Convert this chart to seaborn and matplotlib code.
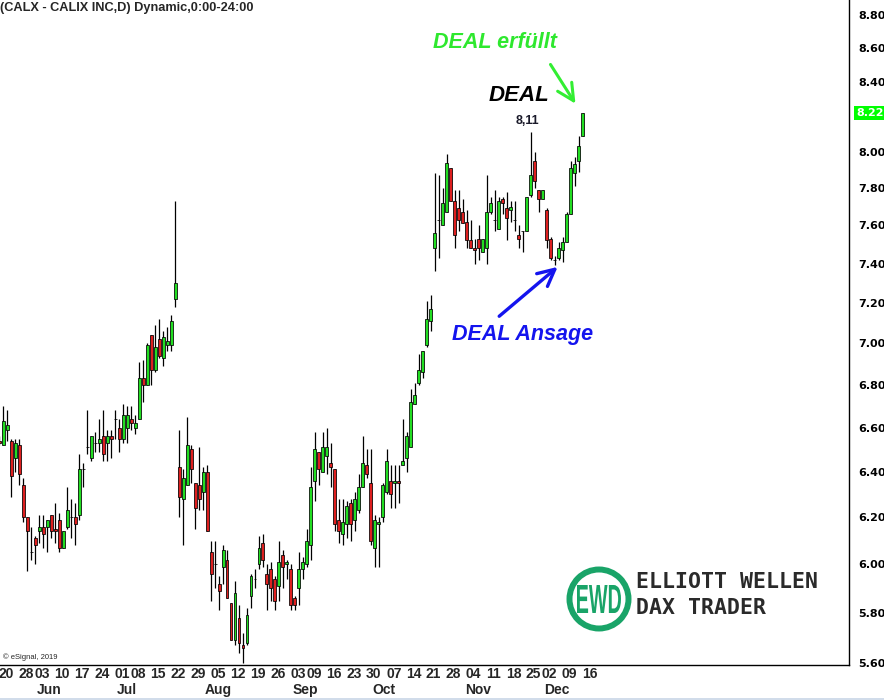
import matplotlib
matplotlib.use('Agg')
import matplotlib.pyplot as plt
import matplotlib.transforms as mtransforms
from matplotlib.patches import Circle, PathPatch
from matplotlib.textpath import TextPath
from matplotlib.font_manager import FontProperties
from matplotlib.ticker import NullLocator
import numpy as np
import seaborn as sns

# daily OHLC, CALX, 20 May - 16 Dec 2019
opens = [6.54, 6.52, 6.59, 6.54, 6.46, 6.52, 6.34, 6.20, 6.05, 6.11,
         6.14, 6.16, 6.16, 6.21, 6.15, 6.19, 6.07, 6.16, 6.20, 6.20,
         6.21, 6.41, 6.51, 6.46, 6.53, 6.53, 6.56, 6.53, 6.56, 6.64,
         6.60, 6.55, 6.60, 6.64, 6.60, 6.64, 6.83, 6.80, 7.04, 6.87,
         7.02, 6.93, 6.99, 6.99, 7.22, 6.42, 6.28, 6.34, 6.50, 6.35,
         6.34, 6.31, 6.40, 6.05, 6.00, 5.92, 5.99, 6.02, 5.84, 5.69,
         5.78, 5.67, 5.68, 5.87, 5.94, 6.00, 6.09, 5.96, 5.98, 5.94,
         5.91, 6.04, 6.00, 5.98, 5.86, 5.90, 5.98, 6.00, 6.08, 6.36,
         6.49, 6.40, 6.47, 6.44, 6.41, 6.19, 6.13, 6.17, 6.26, 6.19,
         6.23, 6.33, 6.43, 6.35, 6.07, 6.17, 6.20, 6.31, 6.36, 6.35,
         6.36, 6.43, 6.46, 6.51, 6.71, 6.81, 6.86, 6.99, 7.11, 7.48,
         7.63, 7.60, 7.67, 7.91, 7.73, 7.69, 7.67, 7.62, 7.52, 7.48,
         7.53, 7.46, 7.48, 7.67, 7.63, 7.58, 7.74, 7.69, 7.68, 7.63,
         7.55, 7.57, 7.57, 7.76, 7.95, 7.79, 7.74, 7.68, 7.53, 7.42,
         7.43, 7.47, 7.51, 7.66, 7.88, 7.95, 8.09]
highs = [6.56, 6.70, 6.68, 6.55, 6.55, 6.55, 6.37, 6.20, 6.16, 6.12,
         6.21, 6.21, 6.19, 6.21, 6.26, 6.22, 6.14, 6.33, 6.28, 6.26,
         6.48, 6.44, 6.68, 6.56, 6.58, 6.64, 6.68, 6.59, 6.59, 6.68,
         6.64, 6.71, 6.70, 6.70, 6.66, 6.91, 6.92, 7.00, 7.04, 7.09,
         7.12, 7.06, 7.08, 7.14, 7.73, 6.59, 6.41, 6.65, 6.52, 6.35,
         6.51, 6.42, 6.43, 6.10, 6.10, 5.95, 6.08, 6.06, 5.84, 5.93,
         5.83, 5.72, 5.82, 5.96, 5.98, 6.12, 6.13, 6.00, 6.01, 5.95,
         6.10, 6.06, 6.02, 6.00, 5.87, 6.05, 6.03, 6.15, 6.42, 6.58,
         6.49, 6.58, 6.60, 6.53, 6.41, 6.28, 6.28, 6.27, 6.28, 6.31,
         6.39, 6.56, 6.50, 6.50, 6.21, 6.20, 6.35, 6.50, 6.43, 6.43,
         6.43, 6.64, 6.58, 6.78, 6.81, 6.95, 6.96, 7.21, 7.24, 7.88,
         7.87, 7.80, 7.99, 7.91, 7.79, 7.79, 7.74, 7.68, 7.63, 7.53,
         7.60, 7.53, 7.87, 7.75, 7.79, 7.75, 7.75, 7.78, 7.73, 7.73,
         7.60, 7.57, 7.75, 8.11, 8.00, 7.79, 7.79, 7.69, 7.54, 7.44,
         7.51, 7.54, 7.67, 7.95, 7.97, 8.09, 8.22]
lows = [6.52, 6.52, 6.54, 6.29, 6.40, 6.34, 6.18, 5.97, 6.02, 6.00,
        6.09, 6.07, 6.05, 6.11, 6.09, 6.05, 6.07, 6.15, 6.11, 6.08,
        6.19, 6.33, 6.48, 6.45, 6.49, 6.49, 6.45, 6.45, 6.46, 6.55,
        6.49, 6.53, 6.53, 6.59, 6.57, 6.64, 6.72, 6.80, 6.80, 6.86,
        6.93, 6.89, 6.96, 6.96, 7.18, 6.20, 6.08, 6.34, 6.35, 6.15,
        6.23, 6.23, 6.14, 5.85, 5.90, 5.81, 5.92, 5.86, 5.69, 5.67,
        5.64, 5.60, 5.67, 5.82, 5.90, 5.98, 5.99, 5.81, 5.85, 5.81,
        5.85, 5.90, 5.94, 5.81, 5.81, 5.83, 5.94, 5.99, 6.02, 6.27,
        6.34, 6.40, 6.39, 6.33, 6.14, 6.09, 6.08, 6.11, 6.10, 6.14,
        6.22, 6.33, 6.37, 6.08, 5.99, 5.99, 6.18, 6.30, 6.24, 6.24,
        6.26, 6.43, 6.40, 6.51, 6.71, 6.80, 6.83, 6.98, 7.06, 7.36,
        7.43, 7.60, 7.67, 7.73, 7.48, 7.57, 7.61, 7.48, 7.48, 7.40,
        7.42, 7.46, 7.40, 7.66, 7.57, 7.58, 7.66, 7.52, 7.62, 7.57,
        7.48, 7.46, 7.57, 7.75, 7.80, 7.67, 7.74, 7.48, 7.42, 7.39,
        7.42, 7.41, 7.51, 7.66, 7.81, 7.89, 8.09]
closes = [6.53, 6.63, 6.61, 6.38, 6.53, 6.39, 6.20, 6.14, 6.05, 6.08,
          6.16, 6.13, 6.19, 6.14, 6.14, 6.07, 6.14, 6.23, 6.20, 6.17,
          6.41, 6.41, 6.51, 6.56, 6.53, 6.55, 6.48, 6.56, 6.55, 6.64,
          6.55, 6.66, 6.66, 6.62, 6.62, 6.83, 6.80, 6.99, 6.87, 6.98,
          6.94, 7.03, 7.01, 7.11, 7.30, 6.29, 6.37, 6.52, 6.41, 6.24,
          6.28, 6.40, 6.14, 5.96, 6.00, 5.89, 6.06, 5.86, 5.69, 5.88,
          5.68, 5.66, 5.79, 5.95, 5.94, 6.07, 6.02, 5.92, 5.90, 5.85,
          6.01, 5.99, 6.01, 5.83, 5.83, 5.98, 6.01, 6.10, 6.33, 6.50,
          6.41, 6.51, 6.51, 6.42, 6.17, 6.14, 6.18, 6.25, 6.17, 6.28,
          6.33, 6.44, 6.39, 6.10, 6.19, 6.18, 6.34, 6.45, 6.30, 6.36,
          6.35, 6.45, 6.56, 6.72, 6.75, 6.87, 6.96, 7.12, 7.17, 7.56,
          7.63, 7.72, 7.94, 7.73, 7.55, 7.63, 7.61, 7.52, 7.48, 7.47,
          7.48, 7.53, 7.67, 7.72, 7.63, 7.73, 7.72, 7.64, 7.70, 7.63,
          7.53, 7.57, 7.75, 7.87, 7.84, 7.74, 7.79, 7.52, 7.43, 7.42,
          7.48, 7.51, 7.66, 7.91, 7.93, 8.03, 8.22]

# first trading day of each week / month (index into the series)
week_pos = [0, 5, 9, 14, 19, 24, 29, 33, 38, 43, 48, 53, 58, 63, 68, 73,
            77, 82, 87, 92, 97, 102, 107, 112, 117, 122, 127, 132, 136, 141, 146]
week_labels = ['20', '28', '03', '10', '17', '24', '01', '08', '15', '22', '29',
               '05', '12', '19', '26', '03', '09', '16', '23', '30', '07', '14',
               '21', '28', '04', '11', '18', '25', '02', '09', '16']
month_pos = [9, 29, 51, 73, 93, 116, 136]
month_labels = ['Jun', 'Jul', 'Aug', 'Sep', 'Oct', 'Nov', 'Dec']

# 8.20 sits under the last-price box, so it is left out
price_ticks = [5.60, 5.80, 6.00, 6.20, 6.40, 6.60, 6.80, 7.00, 7.20,
               7.40, 7.60, 7.80, 8.00, 8.40, 8.60, 8.80]
last_price = 8.22
deal_high = 8.11
deal_high_idx = 133
ansage_idx = 139
last_idx = 146

UP = '#22dd22'
DOWN = '#dd1f1f'
NARROW = ['Liberation Sans Narrow', 'Liberation Sans', 'DejaVu Sans']

sns.set_theme(style='white')
plt.rcParams['font.family'] = ['Liberation Sans', 'DejaVu Sans']

W, H = 884, 700
fig = plt.figure(figsize=(W / 100, H / 100), dpi=100)
fig.patch.set_facecolor('white')
ax = fig.add_axes([0, 35 / H, 849 / W, 665 / H])

o = np.array(opens)
h = np.array(highs)
l = np.array(lows)
c = np.array(closes)
x = np.arange(len(o))
colors = np.where(c > o, UP, np.where(c < o, DOWN, 'black'))

ax.set_yscale('log')
ax.vlines(x, l, h, color='black', lw=0.9, zorder=2)
ax.bar(x, np.abs(c - o), bottom=np.minimum(o, c), width=0.74, color=colors,
       edgecolor='black', linewidth=0.55, zorder=3)

ax.set_xlim(0.17, 212.7)
ax.set_ylim(5.593, 8.893)
ax.set_xticks([])
ax.set_yticks(price_ticks, labels=[f'{p:.2f}' for p in price_ticks])
ax.yaxis.set_minor_locator(NullLocator())
ax.yaxis.tick_right()
ax.tick_params(axis='y', which='both', length=0, pad=6.5, labelsize=8,
               labelcolor='black')
for lbl in ax.get_yticklabels():
    lbl.set_fontweight('bold')
    lbl.set_family(['DejaVu Sans'])

sns.despine(ax=ax, top=True, left=True, right=False, bottom=False)
for s in ('right', 'bottom'):
    ax.spines[s].set_color('black')
    ax.spines[s].set_linewidth(1.0)
ax.grid(False)

# date axis labels
trans = mtransforms.blended_transform_factory(ax.transData, ax.transAxes)
for p, t in zip(week_pos, week_labels):
    ax.text(p - 0.2, -0.0135, t, transform=trans, ha='left', va='center',
            fontsize=10, fontweight='bold', family=NARROW, clip_on=False)
for p, t in zip(month_pos, month_labels):
    ax.text(p + 0.5, -0.038, t, transform=trans, ha='left', va='center',
            fontsize=10, fontweight='bold', family=NARROW, clip_on=False)

# last price marker
ytrans = mtransforms.blended_transform_factory(ax.transAxes, ax.transData)
ax.text(1.0 + 7 / 849, last_price, f'{last_price:.2f}', transform=ytrans,
        ha='left', va='center', color='white', fontsize=8, fontweight='bold',
        family=['DejaVu Sans'], clip_on=False, zorder=5,
        bbox=dict(boxstyle='square,pad=0.15', fc='#00ff00', ec='none'))

# title + copyright
fig.text(0.0, 1 - 8 / H, '(CALX - CALIX INC,D) Dynamic,0:00-24:00',
         ha='left', va='center', fontsize=9.2, fontweight='bold')
ax.text(0.003, 0.012, '\u00a9 eSignal, 2019', transform=ax.transAxes,
        fontsize=5.5, ha='left', va='center')

# annotations
ax.text(124.1, 8.636, 'DEAL erfüllt', color='#2ee82e', fontsize=15.5,
        fontweight='bold', style='italic', ha='center', va='center')
ax.text(130.1, 8.322, 'DEAL', color='black', fontsize=16,
        fontweight='bold', style='italic', ha='center', va='center')
ax.text(deal_high_idx - 0.9, deal_high * 1.0075, f'{deal_high:.2f}'.replace('.', ','),
        color='#1a1a2a', fontsize=9, fontweight='bold', ha='center', va='center')
ax.text(131.1, 7.045, 'DEAL Ansage', color='#1414ee', fontsize=15.5,
        fontweight='bold', style='italic', ha='center', va='center')

ax.annotate('', xy=(last_idx - 1.4, 8.259), xytext=(137.6, 8.516),
            arrowprops=dict(arrowstyle='->,head_length=1.0,head_width=0.5',
                            color='#33ee33', lw=2.2))
ax.annotate('', xy=(ansage_idx + 1.3, 7.392), xytext=(124.6, 7.124),
            arrowprops=dict(arrowstyle='->,head_length=1.0,head_width=0.5',
                            color='#1414ee', lw=2.4))

# logo
logo_green = '#19a468'
ax_logo = fig.add_axes([566 / W, (H - 632) / H, 66 / W, 66 / H])
ax_logo.set_xlim(-33, 33)
ax_logo.set_ylim(-33, 33)
ax_logo.set_aspect('equal')
ax_logo.axis('off')
ax_logo.add_patch(Circle((0, 0), 29.5, facecolor='white', edgecolor=logo_green, lw=4.3))
tp = TextPath((0, 0), 'EWD', size=10, prop=FontProperties(family=NARROW, weight='bold'))
bb = tp.get_extents()
sx, sy = 44 / bb.width, 28 / bb.height
tf = (mtransforms.Affine2D().translate(-bb.x0 - bb.width / 2, -bb.y0 - bb.height / 2)
      .scale(sx, sy))
ax_logo.add_patch(PathPatch(tf.transform_path(tp), facecolor=logo_green,
                            edgecolor='none'))
fig.text(636 / W, 1 - 582 / H, 'ELLIOTT WELLEN', ha='left', va='center',
         family=['DejaVu Sans Mono'], fontweight='bold', fontsize=15.5, color='#2a2a2a')
fig.text(636 / W, 1 - 608 / H, 'DAX TRADER', ha='left', va='center',
         family=['DejaVu Sans Mono'], fontweight='bold', fontsize=15.5, color='#2a2a2a')

fig.add_artist(plt.Line2D([0, 1], [0.8 / H, 0.8 / H], color='#c8d6e6', lw=1.2))

fig.savefig('out.png', dpi=100, facecolor='white')
